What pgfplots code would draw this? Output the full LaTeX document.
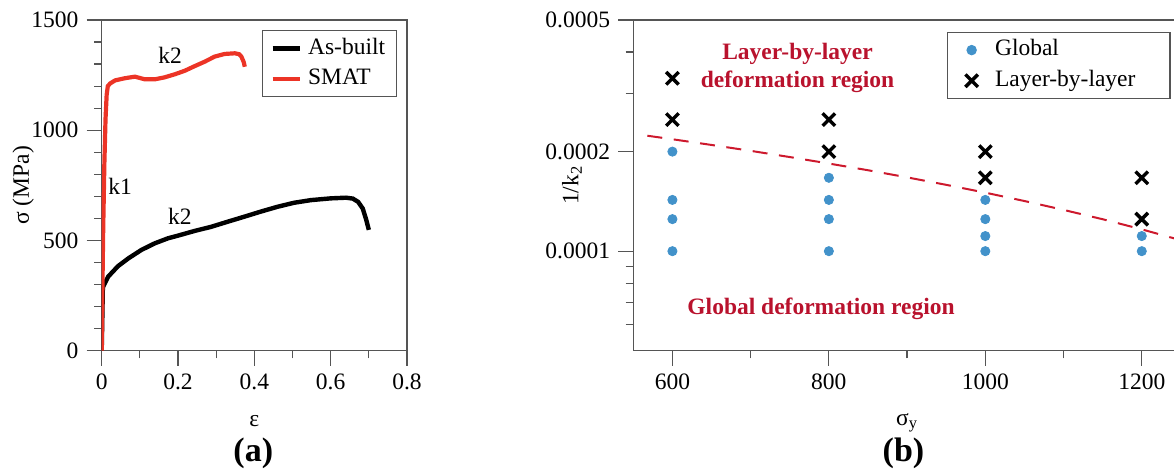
\documentclass[border=0pt]{standalone}
\usepackage{fontspec}
\setmainfont{Liberation Serif}
\usepackage{pgfplots}
\pgfplotsset{compat=1.18}
\definecolor{smatred}{RGB}{236,52,38}
\definecolor{dotblue}{RGB}{66,146,202}
\definecolor{regred}{RGB}{185,18,45}
\definecolor{dashred}{RGB}{205,25,45}
\definecolor{framegray}{RGB}{85,85,85}
\begin{document}
\fontsize{11.75}{14}\selectfont
\begin{tikzpicture}
\pgfplotsset{
 myax/.style={
  scale only axis,
  anchor=south west,
  /pgf/number format/assume math mode=true,
  axis line style={framegray, line width=0.6pt},
  tick style={framegray, line width=0.6pt},
  tick align=outside,
  major tick length=7.5pt,
  minor tick length=3.8pt,
  xtick pos=bottom, ytick pos=left,
  legend cell align=left,
  legend style={draw=framegray, line width=0.6pt, inner xsep=3.8pt, inner ysep=1.2pt, row sep=0pt,
    nodes={text height=8.5pt, text depth=2.8pt, inner sep=2pt}},
 }
}
% ---------------- panel (a)
\begin{axis}[myax, at={(50.85pt,61.15pt)}, width=152.65pt, height=165.35pt,
 xmin=0, xmax=0.8, ymin=0, ymax=1500,
 xtick={0,0.2,0.4,0.6,0.8}, xticklabels={0,0.2,0.4,0.6,0.8}, minor xtick={0.1,0.3,0.5,0.7},
 ytick={0,500,1000,1500}, yticklabels={0,500,1000,1500},
 minor ytick={100,200,300,400,600,700,800,900,1100,1200,1300,1400},
 xlabel={ε}, ylabel={σ (MPa)},
 xlabel style={at={(axis description cs:0.5,0)}, yshift=-35pt, anchor=center},
 ylabel style={at={(axis description cs:0,0.5)}, yshift=39.2pt, anchor=center},
 legend style={at={(1,1)}, xshift=-4.85pt, yshift=-5pt, anchor=north east,
   /tikz/every odd column/.append style={column sep=1pt}},
 legend image code/.code={\draw[#1] (0pt,0pt) -- (13.6pt,0pt);},
 ]
\addplot[black, line width=2.2pt] coordinates {
 (0,0) (0.003,285) (0.005,295) (0.017,336) (0.043,384) (0.07,419) (0.104,457)
 (0.139,487) (0.174,510) (0.2,522) (0.243,543) (0.287,562) (0.33,585) (0.374,608)
 (0.417,631) (0.461,653) (0.504,671) (0.548,683) (0.6,691) (0.64,694) (0.658,690)
 (0.672,675) (0.684,645) (0.693,595) (0.7,548)};
\addlegendentry{As-built}
\addplot[smatred, line width=2.1pt] coordinates {
 (0,0) (0.002,300) (0.004,560) (0.007,850) (0.01,1050) (0.013,1160) (0.016,1200)
 (0.022,1212) (0.035,1226) (0.061,1236) (0.087,1243) (0.113,1231) (0.139,1231)
 (0.165,1240) (0.192,1254) (0.218,1270) (0.244,1291) (0.27,1311) (0.296,1334)
 (0.322,1346) (0.349,1349) (0.36,1345) (0.366,1334) (0.372,1310) (0.375,1288)};
\addlegendentry{SMAT}
\node at (axis cs:0.048,745) {k1};
\node at (axis cs:0.179,1341) {k2};
\node at (axis cs:0.205,608) {k2};
\end{axis}
% ---------------- panel (b)
\begin{axis}[myax, at={(316.65pt,61.15pt)}, width=273.8pt, height=165.35pt,
 ymode=log, xmin=550, xmax=1250, ymin=0.00005, ymax=0.0005,
 xtick={600,800,1000,1200}, xticklabels={600,800,1000,1200}, minor xtick={700,900,1100},
 ytick={0.0001,0.0002,0.0005}, yticklabels={0.0001,0.0002,0.0005},
 minor ytick={0.00006,0.00007,0.00008,0.00009,0.0003,0.0004},
 xlabel={σ\textsubscript{y}}, ylabel={1/k\textsubscript{2}},
 xlabel style={at={(axis description cs:0.5,0)}, yshift=-36pt, anchor=center},
 ylabel style={at={(axis description cs:0,0.5)}, yshift=30.7pt, anchor=center},
 legend style={at={(1,1)}, xshift=-5.1pt, yshift=-5.9pt, anchor=north east,
   /tikz/every odd column/.append style={column sep=3pt}},
 legend image code/.code={\path (-1.5pt,0pt) (11.7pt,0pt);
   \draw[mark repeat=2,mark phase=2,#1] plot coordinates {(0pt,0pt)(5.85pt,0pt)(11.7pt,0pt)};},
 ]
\addplot[dashred, line width=1pt, dash pattern=on 7.5pt off 5.8pt, forget plot] coordinates {
 (568,0.0002234) (600,0.000218) (650,0.0002095) (700,0.0002011) (750,0.0001926)
 (800,0.0001841) (850,0.0001757) (900,0.0001672) (950,0.0001587) (1000,0.0001503)
 (1050,0.0001418) (1100,0.0001333) (1150,0.0001249) (1200,0.0001164) (1250,0.0001079)};
\addplot[only marks, mark=*, mark size=2.3pt, dotblue, mark options={draw=dotblue, fill=dotblue}] coordinates {
 (600,0.0002) (600,0.0001429) (600,0.000125) (600,0.0001)
 (800,0.0001667) (800,0.0001429) (800,0.000125) (800,0.0001)
 (1000,0.0001429) (1000,0.000125) (1000,0.0001111) (1000,0.0001)
 (1200,0.0001111) (1200,0.0001)};
\addlegendentry{Global}
\addplot[only marks, mark=x, mark size=4.4pt, black, line width=1.7pt] coordinates {
 (600,0.0003333) (600,0.00025)
 (800,0.00025) (800,0.0002)
 (1000,0.0002) (1000,0.0001667)
 (1200,0.0001667) (1200,0.000125)};
\addlegendentry{Layer-by-layer\hspace*{11.5pt}}
\node[font=\bfseries, text=regred, align=center, inner sep=0pt] at (axis cs:760,0.000358)
 {Layer-by-layer\\deformation region};
\node[font=\bfseries, text=regred, inner sep=0pt] at (axis cs:790,0.000067)
 {Global deformation region};
\end{axis}
\node[font=\fontsize{17}{20}\selectfont\bfseries] at (126.65pt,10pt) {(a)};
\node[font=\fontsize{17}{20}\selectfont\bfseries] at (451.75pt,10pt) {(b)};
\pgfresetboundingbox
\useasboundingbox (0,0) rectangle (587pt,236.5pt);
\end{tikzpicture}
\end{document}
